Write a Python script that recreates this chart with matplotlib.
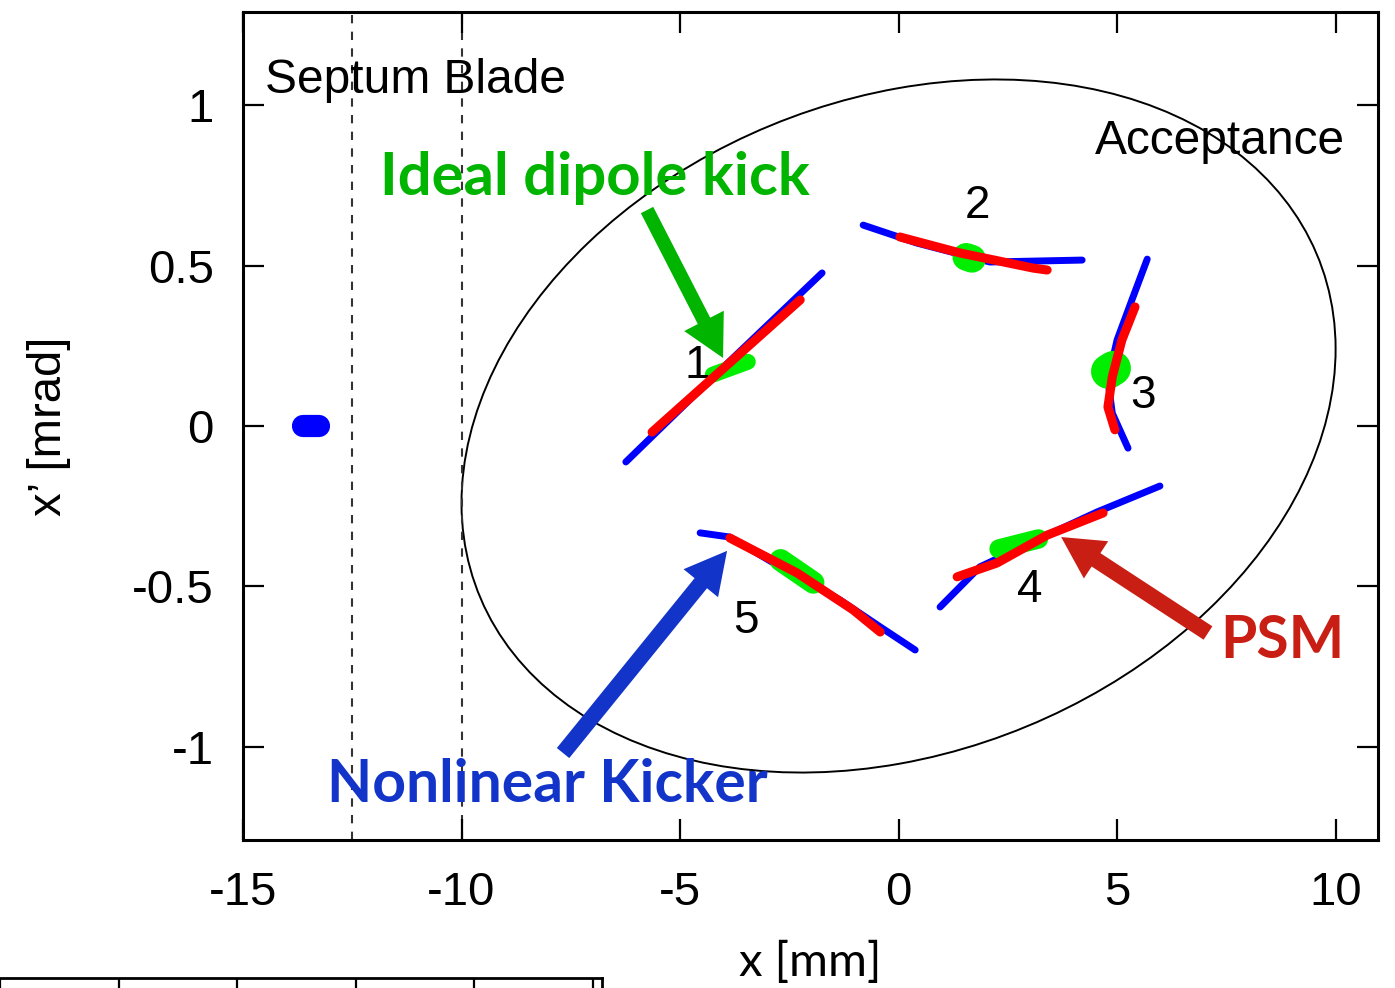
import numpy as np
import matplotlib
matplotlib.use('Agg')
import matplotlib.pyplot as plt
from matplotlib.patches import Ellipse, FancyArrowPatch, ArrowStyle

plt.rcParams['axes.unicode_minus'] = False
plt.rcParams['font.family'] = ['Liberation Sans', 'DejaVu Sans']

# acceptance ellipse (second moments, mm / mrad)
acc_xx = 100.0
acc_xy = 2.4
acc_yy = 1.166

# septum blade positions
septum_x = [-12.5, -10.0]

# injected beam (before kick)
beam0_x = [-13.62, -13.25]
beam0_y = [0.0, 0.0]

# five turns: blue = nonlinear kicker, red = PSM, green = ideal dipole kick
blue_x = [[-6.24, -4.08, -1.75],
          [-0.81, 0.42, 2.09, 4.20],
          [5.69, 5.34, 5.00, 4.79, 4.89, 5.25],
          [0.95, 1.86, 3.40, 4.54, 5.98],
          [-4.54, -3.86, -2.71, -1.34, -0.42, 0.38]]
blue_y = [[-0.112, 0.174, 0.477],
          [0.626, 0.570, 0.511, 0.517],
          [0.520, 0.393, 0.268, 0.143, 0.040, -0.069],
          [-0.564, -0.439, -0.340, -0.268, -0.187],
          [-0.333, -0.346, -0.439, -0.542, -0.626, -0.698]]
red_x = [[-5.64, -2.25],
         [0.03, 1.41, 3.08, 3.40],
         [5.41, 5.11, 4.89, 4.79, 4.95],
         [1.34, 2.25, 3.40, 4.68],
         [-3.86, -2.32, -1.04, -0.42]]
red_y = [[-0.019, 0.393],
         [0.589, 0.539, 0.492, 0.486],
         [0.371, 0.268, 0.153, 0.059, -0.012],
         [-0.470, -0.427, -0.340, -0.271],
         [-0.349, -0.458, -0.573, -0.642]]
green_x = [[-4.25, -3.45],
           [1.55, 1.68],
           [4.80, 4.92],
           [2.30, 3.20],
           [-2.70, -1.95]]
green_y = [[0.160, 0.200],
           [0.527, 0.521],
           [0.170, 0.180],
           [-0.383, -0.352],
           [-0.418, -0.488]]

turn_labels = ['1', '2', '3', '4', '5']
label_x = [-4.89, 1.52, 5.30, 2.71, -3.79]
label_y = [0.150, 0.649, 0.056, -0.549, -0.646]

# blob widths of the green clouds (points)
green_lw = [11.5, 20, 25, 14, 16]

fig = plt.figure(figsize=(13.95, 9.88), dpi=100)
ax = fig.add_axes([243 / 1395, 1 - 840 / 988, 1135 / 1395, 828 / 988])

# acceptance
M = np.array([[acc_xx, acc_xy], [acc_xy, acc_yy]])
w, v = np.linalg.eigh(M)
ang = np.degrees(np.arctan2(v[1, 1], v[0, 1]))
ax.add_patch(Ellipse((0, 0), 2 * np.sqrt(w[1]), 2 * np.sqrt(w[0]), angle=ang,
                     fill=False, ec='black', lw=1.4, zorder=1))

for sx in septum_x:
    ax.axvline(sx, color='#333333', lw=1.5, ls=(0, (4, 4)), zorder=1)

ax.plot(beam0_x, beam0_y, color='blue', lw=16, solid_capstyle='round', zorder=3)

for i in range(5):
    ax.plot(blue_x[i], blue_y[i], color='blue', lw=5, solid_capstyle='round', zorder=2)
    ax.plot(green_x[i], green_y[i], color='#00ee00', lw=green_lw[i], solid_capstyle='round', zorder=3)
    ax.plot(red_x[i], red_y[i], color='red', lw=6.5, solid_capstyle='round', zorder=4)
    ax.text(label_x[i], label_y[i], turn_labels[i], fontsize=33, ha='left', va='baseline')

ax.text(-14.5, 1.039, 'Septum Blade', fontsize=34.5, ha='left', va='baseline')
ax.text(4.50, 0.846, 'Acceptance', fontsize=34.5, ha='left', va='baseline')

bold = dict(fontweight='bold', family=['Lato', 'DejaVu Sans'],
            ha='left', va='baseline')
ax.text(-11.87, 0.721, 'Ideal dipole kick', color='#00b400', fontsize=43, **bold)
ax.text(-13.08, -1.173, 'Nonlinear Kicker', color='#1234c8', fontsize=42.3, **bold)
ax.text(7.37, -0.724, 'PSM', color='#c81e14', fontsize=42.3, **bold)

# annotation arrows
arrows = [((-5.755, 0.673), (-4.016, 0.212), '#00b400', 10),
          ((-7.677, -1.019), (-3.924, -0.389), '#1234c8', 11.5),
          ((7.08, -0.645), (3.72, -0.346), '#c81e14', 11.5)]
for tail, tip, col, tw in arrows:
    st = ArrowStyle('simple', head_length=30, head_width=32, tail_width=tw)
    ax.add_patch(FancyArrowPatch(tail, tip, arrowstyle=st, mutation_scale=1,
                                 color=col, lw=0, shrinkA=0, shrinkB=0, zorder=5))

ax.set_xlim(-15, 10.97)
ax.set_ylim(-1.29, 1.29)
ax.set_xticks([-15, -10, -5, 0, 5, 10])
ax.set_yticks([-1, -0.5, 0, 0.5, 1])
ax.set_yticklabels(['-1', '-0.5', '0', '0.5', '1'])
ax.tick_params(direction='in', length=15, width=1.6, labelsize=34, pad=21,
               top=True, right=True)
ax.tick_params(axis='x', pad=22)
for s in ax.spines.values():
    s.set_linewidth(2.2)

ax.set_xlabel('x [mm]', fontsize=34, family=['Lato', 'DejaVu Sans'], labelpad=19)
ax.set_ylabel('x’ [mrad]', fontsize=34, labelpad=44)

# fragment of the next figure at the bottom edge
frag_ticks = [0, 1, 2, 3, 4, 5]
ax2 = fig.add_axes([0, 0, 602 / 1395, 10 / 988])
ax2.set_xlim(0, 5.08)
ax2.set_ylim(0, 1)
ax2.set_xticks(frag_ticks)
ax2.set_yticks([])
ax2.tick_params(axis='x', direction='in', length=10, width=1.6, top=True,
                bottom=False, labeltop=False, labelbottom=False)
for k in ['left', 'bottom']:
    ax2.spines[k].set_visible(False)
for k in ['top', 'right']:
    ax2.spines[k].set_linewidth(2)

fig.savefig('out.png', dpi=100)
